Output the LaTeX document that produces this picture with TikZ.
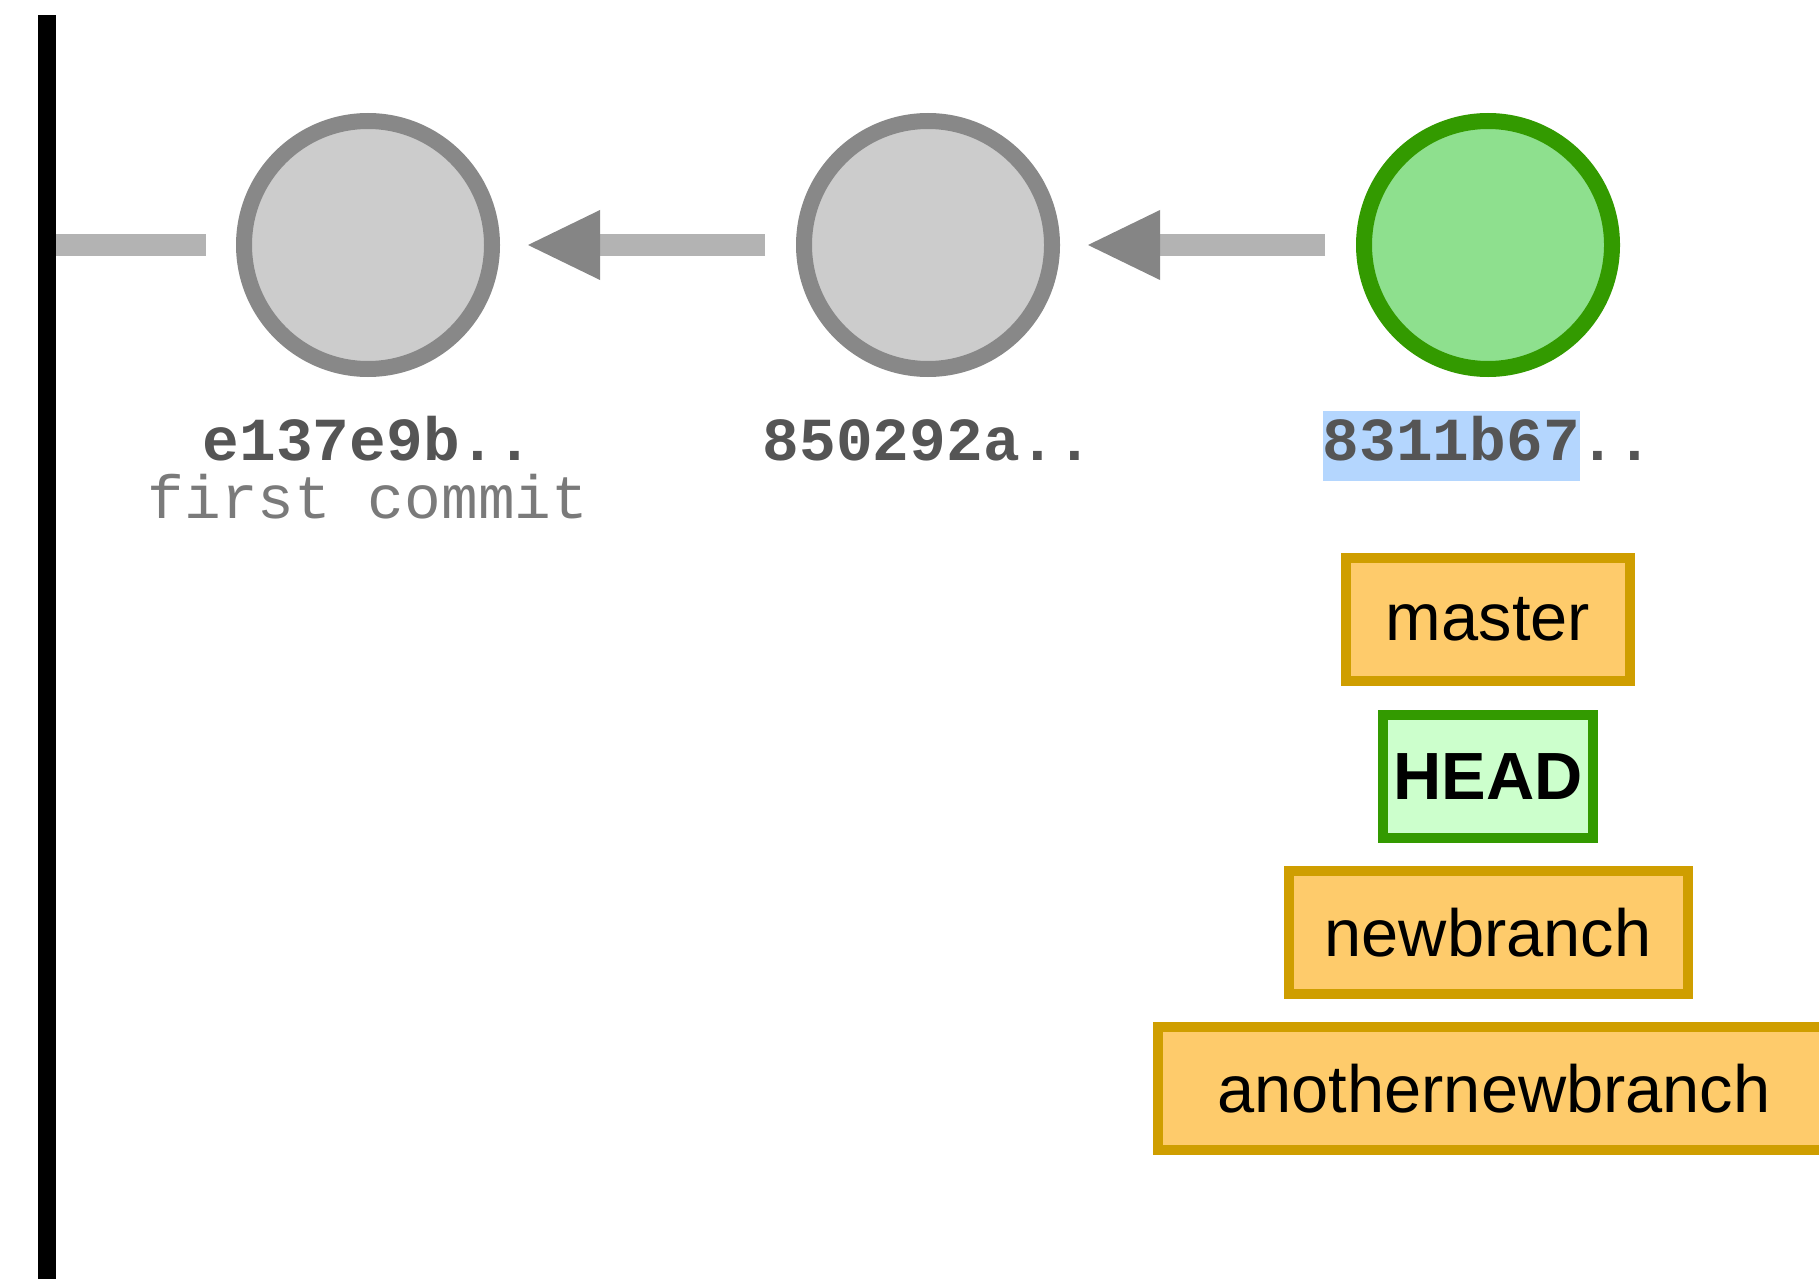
\documentclass[tikz,border=0pt]{standalone}
\usepackage{fontspec}
\setmainfont{Liberation Sans}
\setsansfont{Liberation Sans}
\setmonofont{Liberation Mono}
\usetikzlibrary{arrows.meta,positioning,calc}

\definecolor{commitfill}{HTML}{CCCCCC}
\definecolor{commitedge}{HTML}{888888}
\definecolor{headfill}{HTML}{8EE08E}
\definecolor{headedge}{HTML}{339A00}
\definecolor{linkgray}{HTML}{B3B3B3}
\definecolor{tipgray}{HTML}{858585}
\definecolor{hashgray}{HTML}{555555}
\definecolor{msggray}{HTML}{7A7A7A}
\definecolor{selblue}{HTML}{B4D6FE}
\definecolor{branchfill}{HTML}{FECB6B}
\definecolor{branchedge}{HTML}{CF9E00}
\definecolor{reffill}{HTML}{CCFFCC}

\tikzset{
  commit/.style={circle,draw=commitedge,fill=commitfill,line width=0.16cm,minimum size=2.48cm,inner sep=0pt},
  tipcommit/.style={commit,draw=headedge,fill=headfill},
  parent/.style={draw=linkgray,line width=0.21cm,-{Triangle[length=0.72cm,width=0.70cm,color=tipgray,line width=0pt]},shorten <=0.31cm,shorten >=0.28cm},
  hash/.style={anchor=base,inner sep=0pt,text=hashgray,font=\ttfamily\bfseries\fontsize{17.4}{20}\selectfont},
  msg/.style={anchor=base,inner sep=0pt,text=msggray,font=\ttfamily\fontsize{17.4}{20}\selectfont},
  branch/.style={draw=branchedge,fill=branchfill,line width=0.1cm,minimum height=1.23cm,inner sep=0pt,font=\sffamily\fontsize{19}{22}\selectfont},
  headref/.style={branch,draw=headedge,fill=reffill,font=\sffamily\bfseries\fontsize{19}{22}\selectfont},
}

\begin{document}
\begin{tikzpicture}
\useasboundingbox (0,0) rectangle (18.19,-12.79);
\clip (0,0) rectangle (18.19,-12.79);
% ---- left edge of the history ----
\fill[black] (0.38,-0.15) rectangle (0.56,-12.79);
\coordinate (root) at (0.56,-2.45);
% ---- commits ----
\node[commit] (c1) at (3.68,-2.45) {};
\node[commit,right=2.96cm of c1] (c2) {};
\node[tipcommit,right=2.96cm of c2] (c3) {};
\draw[draw=linkgray,line width=0.21cm,shorten >=0.30cm] (root) -- (c1);
\draw[parent] (c2) -- (c1);
\draw[parent] (c3) -- (c2);
% ---- hashes and message ----
\node[hash] (h1) at ([yshift=-2.15cm]c1.center) {e137e9b..};
\node[msg] (m1) at ([yshift=-2.73cm]c1.center) {first commit};
\node[hash] (h2) at ([yshift=-2.15cm]c2.center) {850292a..};
\node[hash] (h3) at ([yshift=-2.15cm]c3.center) {{\setlength{\fboxsep}{0pt}\colorbox{selblue}{\strut 8311b67}}..};
% ---- refs on the newest commit ----
\node[branch,minimum width=2.84cm,below=1.76cm of c3] (master) {master};
\node[headref,minimum width=2.10cm,below=0.24cm of master] (head) {HEAD};
\node[branch,minimum width=3.99cm,below=0.23cm of head] (newbranch) {newbranch};
\node[branch,minimum width=6.72cm,below=0.23cm of newbranch,xshift=0.06cm] (another) {anothernewbranch};
\end{tikzpicture}
\end{document}
